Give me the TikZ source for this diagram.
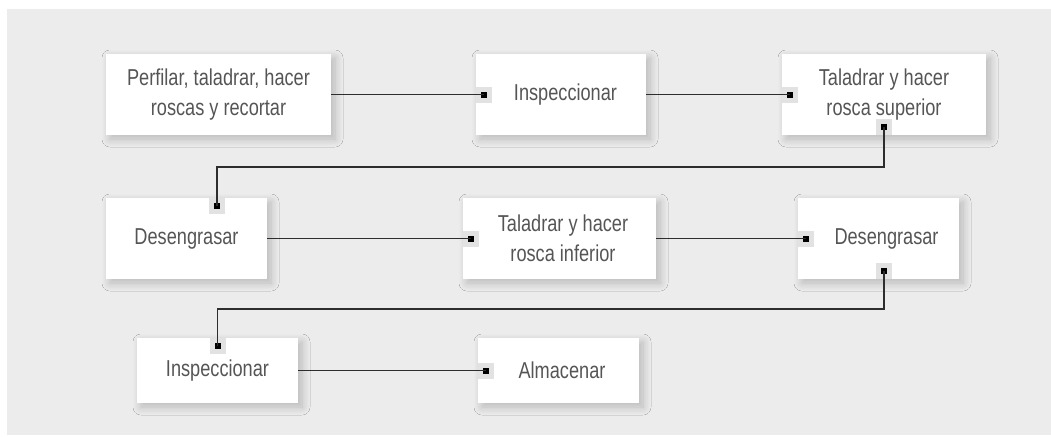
\documentclass[tikz,border=0pt]{standalone}
\usepackage{fontspec}
\setmainfont[FakeStretch=0.79]{Liberation Sans}
\usepackage{xcolor}
\usetikzlibrary{calc, shadows.blur}

\definecolor{bggray}{RGB}{236,236,236}
\definecolor{portgray}{RGB}{226,226,226}
\definecolor{txtgray}{RGB}{85,85,85}
\definecolor{linegray}{RGB}{45,45,45}

\tikzset{
	box/.style = {fill = white, inner sep = 0pt, align = center, text = txtgray,
		blur shadow = {shadow xshift = 4pt, shadow yshift = -4pt, shadow blur radius = 8pt, shadow blur steps = 12, shadow opacity = 22}},
	port/.style = {fill = portgray, minimum size = 16pt, inner sep = 0pt,
		path picture = {\fill [black] ($(path picture bounding box.center)+(-3pt,-3pt)$) rectangle ($(path picture bounding box.center)+(3pt,3pt)$);}},
	conn/.style = {draw = linegray, line width = 1.3pt}
}

\begin{document}
\begin{tikzpicture}[x = 1pt, y = -1pt, font = \fontsize{23}{30}\selectfont]
	%frame of the picture
	\useasboundingbox (0,0) rectangle (1051,436);
	\fill [bggray] (7,9) rectangle (1051,435);
	
	%heights of the rows
	\def\rowA{94.5};
	\def\rowB{238.5};
	\def\rowC{370.5};
	
	%first row
	\node [box, minimum width = 225pt, minimum height = 81pt] (perfilar) at (218.5,\rowA) {Perfilar, taladrar, hacer\\roscas y recortar};
	\node [box, minimum width = 170pt, minimum height = 81pt] (inspA) at (561,\rowA) {\hspace*{9pt}Inspeccionar};
	\node [box, minimum width = 204pt, minimum height = 81pt] (superior) at (884,\rowA) {Taladrar y hacer\\rosca superior};
	
	%second row
	\node [box, minimum width = 161pt, minimum height = 81pt] (desengA) at (186.5,\rowB) {Desengrasar};
	\node [box, minimum width = 193pt, minimum height = 81pt] (inferior) at (559.5,\rowB) {\hspace*{7pt}Taladrar y hacer\\\hspace*{7pt}rosca inferior};
	\node [box, minimum width = 161pt, minimum height = 81pt] (desengB) at (878.5,\rowB) {\hspace*{16pt}Desengrasar};
	
	%third row
	\node [box, minimum width = 161pt, minimum height = 65pt] (inspB) at (217.5,\rowC) {Inspeccionar};
	\node [box, minimum width = 161pt, minimum height = 65pt] (almacenar) at (558.5,\rowC) {\hspace*{7pt}Almacenar};
	
	%ports
	\node [port] (inspA-in) at ([xshift = 8pt]inspA.west) {};
	\node [port] (superior-in) at ([xshift = 8pt]superior.west) {};
	\node [port] (superior-out) at ([yshift = 8pt]superior.south) {};
	\node [port] (desengA-in) at ([yshift = -8pt, xshift = 30.5pt]desengA.north) {};
	\node [port] (inferior-in) at ([xshift = 8pt]inferior.west) {};
	\node [port] (desengB-in) at ([xshift = 8pt]desengB.west) {};
	\node [port] (desengB-out) at ([yshift = 8pt, xshift = 5.5pt]desengB.south) {};
	\node [port] (inspB-in) at ([yshift = -8pt]inspB.north) {};
	\node [port] (almacenar-in) at ([xshift = 8pt]almacenar.west) {};
	
	%bends of the return lines
	\coordinate (bendA) at (0,167);
	\coordinate (bendB) at (0,309);
	
	%connectors
	\draw [conn] (perfilar.east) -- (inspA-in.center);
	\draw [conn] (inspA.east) -- (superior-in.center);
	\draw [conn] (superior-out.center) -- (superior-out.center |- bendA) -| (desengA-in.center);
	\draw [conn] (desengA.east) -- (inferior-in.center);
	\draw [conn] (inferior.east) -- (desengB-in.center);
	\draw [conn] (desengB-out.center) -- (desengB-out.center |- bendB) -| (inspB-in.center);
	\draw [conn] (inspB.east) -- (almacenar-in.center);
\end{tikzpicture}
\end{document}
